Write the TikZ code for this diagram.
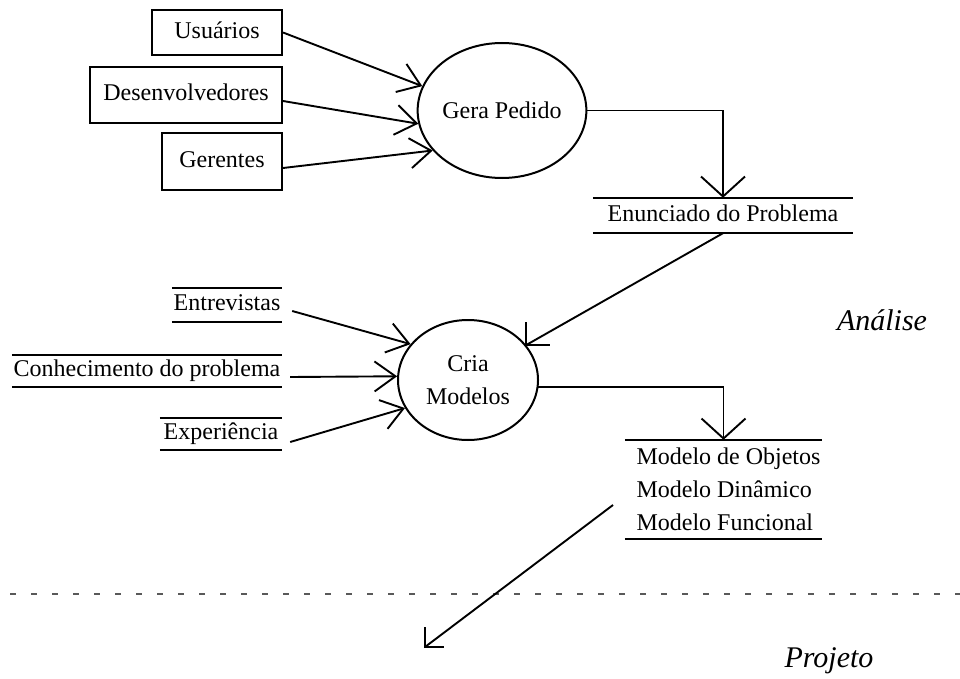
\documentclass[tikz,border=0pt]{standalone}
\usepackage{fontspec}
\setmainfont{Liberation Serif}
\usetikzlibrary{shapes.geometric,arrows.meta,calc}

\begin{document}
\begin{tikzpicture}[x=1pt,y=-1pt,
  every node/.style={font=\fontsize{24}{33}\selectfont},
  line/.style={line width=1.9pt},
  actor/.style={draw,line width=2pt,rectangle,inner sep=0pt,
    text height=16.5pt,text depth=5pt},
  process/.style={draw,line width=2pt,ellipse,inner sep=0pt},
  storeline/.style={line width=2.4pt,-},
  store/.style={rectangle,inner sep=0pt,
    append after command={
      (\tikzlastnode.north west) edge[storeline] (\tikzlastnode.north east)
      (\tikzlastnode.south west) edge[storeline] (\tikzlastnode.south east)}},
  oneline/.style={text height=16.5pt,text depth=5pt},
  flow/.style={line,-{Straight Barb[length=21pt,width=30pt]}},
  drop/.style={line,-{Straight Barb[length=20pt,width=44pt]}},
  phase/.style={font=\fontsize{30}{30}\selectfont\itshape,inner sep=0pt},
  divider/.style={draw=black!65,line width=2pt,dash pattern=on 6pt off 15pt}
]
\useasboundingbox (0,0) rectangle (960,679);

% external entities
\node[actor,minimum width=130pt,minimum height=45pt] (usu) at (217,32.5) {Usuários};
\node[actor,minimum width=192pt,minimum height=56pt] (des) at (186,95) {Desenvolvedores};
\node[actor,minimum width=120pt,minimum height=57pt] (ger) at (222,161.5) {Gerentes};

% processes
\node[process,minimum width=140pt,minimum height=135pt] (gp) at (502,110.5) {Gera Pedido};
\node[process,minimum width=140pt,minimum height=120pt,align=center] (cm) at (468,380) {Cria\\Modelos};

% data stores
\node[store,oneline,minimum width=260pt,minimum height=35pt] (enun) at (723,215.5) {Enunciado do Problema};
\node[store,oneline,minimum width=110pt,minimum height=34pt] (entr) at (227,305) {Entrevistas};
\node[store,oneline,minimum width=270pt,minimum height=32pt] (conh) at (147,371) {Conhecimento do problema};
\node[store,oneline,minimum width=122pt,minimum height=32pt] (expe) at (221,434) {Experiência};
\node[store,align=left,minimum width=197pt,minimum height=99pt] (mod) at (723.5,489.5)
  {\hspace*{10pt}Modelo de Objetos\\\hspace*{10pt}Modelo Dinâmico\\\hspace*{10pt}Modelo Funcional};

% phase labels and boundary
\node[phase] (ana) at (882,320) {Análise};
\node[phase] (proj) at (829,661) {Projeto};
\coordinate (divl) at (10,594);
\coordinate (divr) at (960,594);
\draw[divider] (divl) -- (divr);

% flows into Gera Pedido
\draw[flow] (usu.east) -- (gp.163.5);
\draw[flow] ([yshift=-6pt]des.east) -- (gp.189.5);
\draw[flow] ([yshift=-6.5pt]ger.east) -- (gp.210);

% Gera Pedido -> Enunciado do Problema
\draw[drop] (gp.east) -| (enun.north);

% Enunciado do Problema -> Cria Modelos
\coordinate (cmin) at (cm.31.7);
\draw[line] (enun.south) -- (cmin);
\draw[line] (cmin) ++(0,-23) -- (cmin) -- ++(24,0);

% flows into Cria Modelos
\draw[flow] ([xshift=10pt,yshift=-6pt]entr.east) -- (cm.148);
\draw[flow] ([xshift=8pt,yshift=-6pt]conh.east) -- (cm.177.5);
\draw[flow] ([xshift=8pt,yshift=-8pt]expe.east) -- (cm.204);

% Cria Modelos -> models
\draw[drop] (cm.354) -| (mod.north);

% models carried over to design
\coordinate (modout) at (613,505);
\coordinate (down) at (425,647);
\draw[line] (modout) -- (down);
\draw[line] (down) ++(0,-20) -- (down) -- ++(19,0);
\end{tikzpicture}
\end{document}
